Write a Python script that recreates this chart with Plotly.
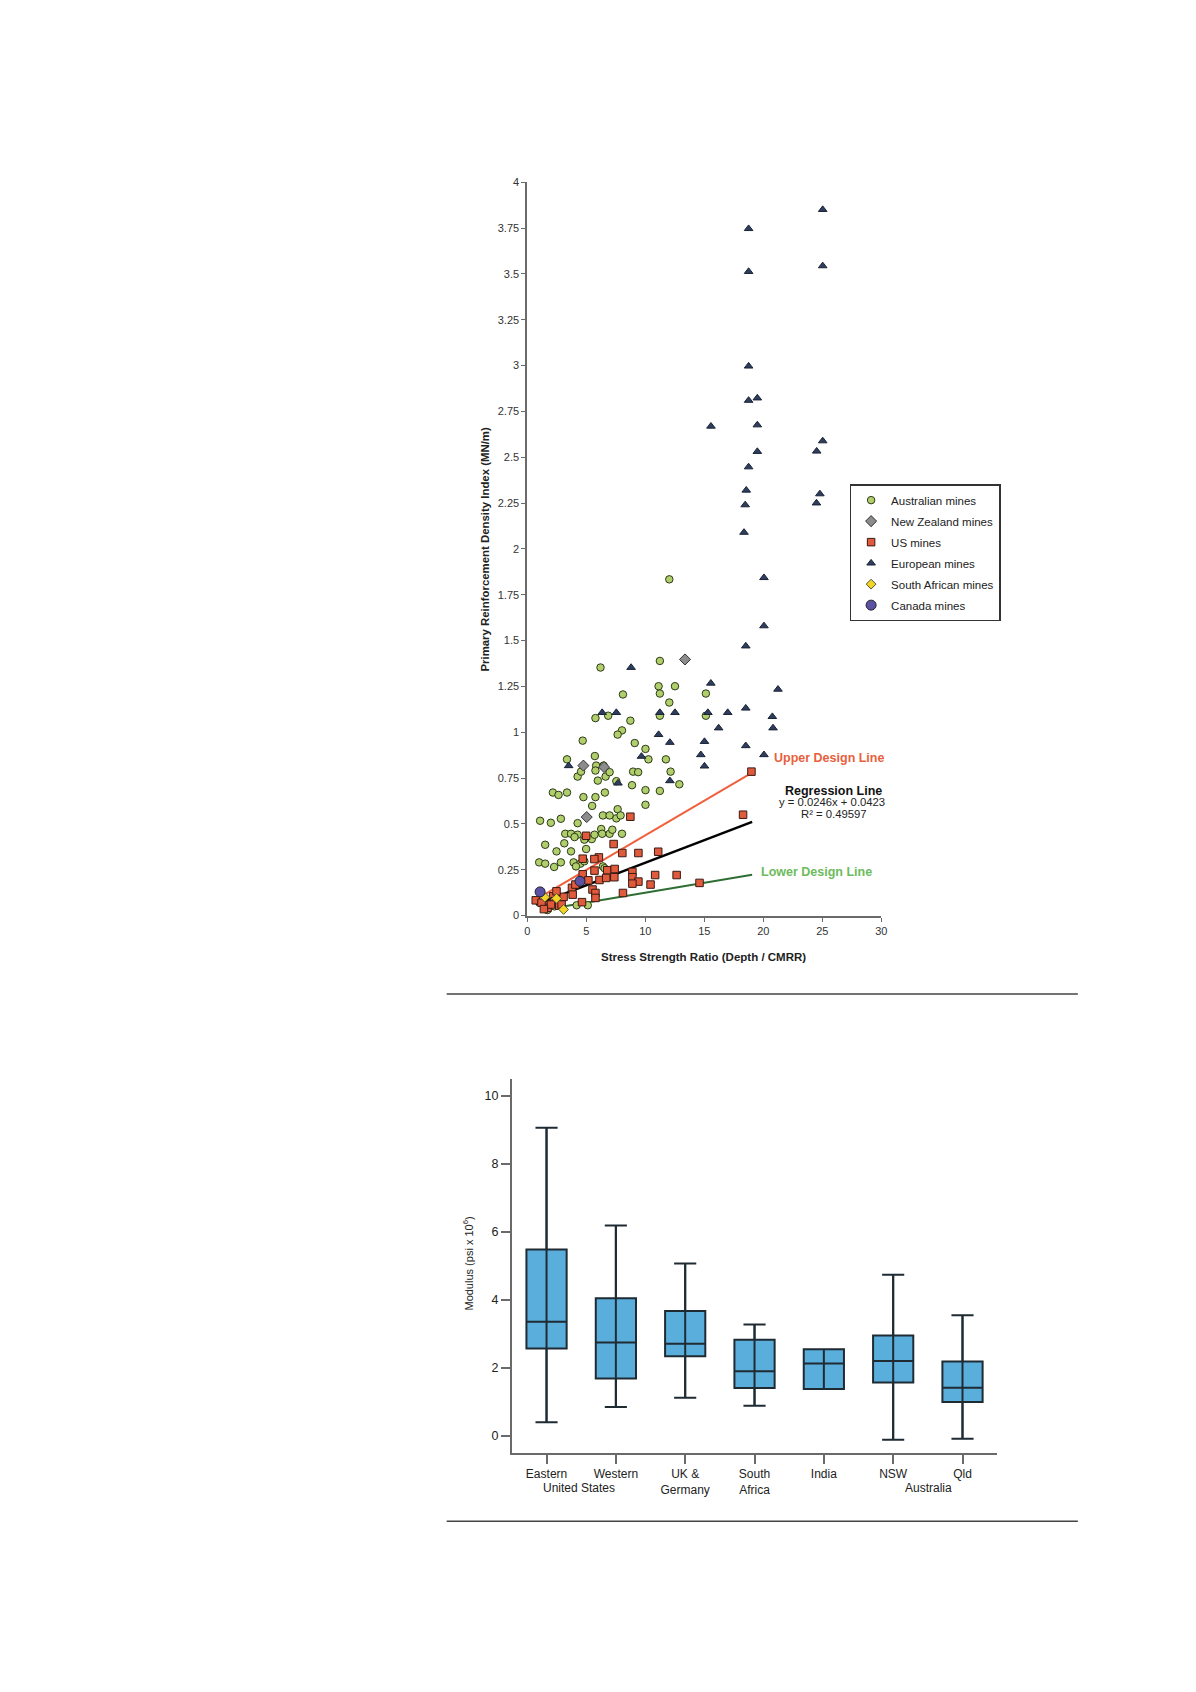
import plotly.graph_objects as go

# page body has an 8px margin; figure sized so the page fits the window exactly
OFF = 8
W, H = 1196 - OFF, 1692 - OFF

# ---------------- Scatter chart data ----------------
aus_x = [12.03, 6.2, 11.23, 11.12, 12.51, 8.10, 11.23, 12.03, 15.13, 5.77, 6.85, 11.23, 15.13, 8.73,
         8.02, 7.65, 4.69, 9.10, 10.01, 10.26, 11.74, 3.36, 5.72, 5.83, 6.46, 5.77, 4.26, 4.55, 5.97,
         6.63, 6.97, 8.96, 9.39, 12.14, 7.54, 8.87, 12.88, 11.23, 10.01, 10.01, 2.16, 2.64, 3.36, 4.75,
         5.77, 6.57, 5.49, 7.65, 1.08, 1.99, 2.84, 4.26, 6.4, 6.97, 7.54, 7.9, 1.51, 3.13, 3.21, 3.70,
         4.26, 4.0, 4.83, 5.46, 5.69, 6.26, 6.34, 6.97, 7.2, 8.02, 4.98, 2.47, 3.70, 1.00, 1.51, 2.27,
         2.84, 3.92, 4.49, 4.83, 4.12, 6.4, 6.54, 4.18, 5.12, 2.3, 1.7]
aus_y = [1.834, 1.353, 1.389, 1.251, 1.251, 1.206, 1.211, 1.162, 1.211, 1.077, 1.090, 1.090, 1.090, 1.063,
         1.010, 0.987, 0.954, 0.941, 0.909, 0.852, 0.852, 0.852, 0.870, 0.818, 0.818, 0.791, 0.758, 0.785,
         0.736, 0.758, 0.782, 0.785, 0.782, 0.785, 0.733, 0.711, 0.716, 0.680, 0.684, 0.604, 0.671, 0.658,
         0.671, 0.646, 0.646, 0.671, 0.598, 0.580, 0.517, 0.506, 0.528, 0.504, 0.546, 0.546, 0.530, 0.546,
         0.386, 0.394, 0.446, 0.446, 0.441, 0.428, 0.414, 0.417, 0.441, 0.472, 0.446, 0.446, 0.468, 0.446,
         0.363, 0.350, 0.350, 0.290, 0.283, 0.265, 0.290, 0.290, 0.283, 0.296, 0.268, 0.268, 0.258, 0.056,
         0.056, 0.05, 0.03]

nz_x = [13.36, 4.75, 5.03, 6.5]
nz_y = [1.397, 0.818, 0.537, 0.81]

us_x = [18.99, 18.28, 8.73, 4.98, 7.31, 8.05, 9.41, 11.09, 4.69, 6.06, 5.68, 5.69, 6.77, 7.40, 8.90, 7.37,
        8.90, 10.83, 12.65, 9.41, 8.90, 10.44, 14.59, 8.10, 4.69, 5.17, 6.11, 6.68, 5.52, 5.77, 5.77, 4.63,
        3.78, 4.07, 3.07, 2.19, 2.47, 0.71, 1.56, 2.27, 2.70, 1.71, 3.84, 1.2, 2.0, 2.9, 1.4]
us_y = [0.785, 0.550, 0.539, 0.435, 0.390, 0.341, 0.341, 0.348, 0.310, 0.317, 0.308, 0.245, 0.247, 0.254,
        0.238, 0.209, 0.209, 0.221, 0.221, 0.185, 0.174, 0.169, 0.178, 0.123, 0.225, 0.192, 0.194, 0.205,
        0.142, 0.123, 0.096, 0.073, 0.151, 0.169, 0.102, 0.105, 0.132, 0.083, 0.056, 0.078, 0.054, 0.042,
        0.114, 0.07, 0.06, 0.06, 0.035]

eu_x = [25.03, 18.75, 18.75, 25.03, 18.75, 18.75, 19.49, 15.56, 19.49, 19.49, 24.52, 25.03, 18.75,
        18.55, 18.46, 24.50, 24.79, 18.36, 20.05, 20.05, 18.51,
        8.79, 15.55, 21.24, 18.51, 6.34, 7.54, 11.23, 12.51, 15.30, 16.98, 20.76, 20.82, 16.21, 11.12,
        12.08, 15.01, 14.70, 18.51, 20.05, 15.01, 9.67, 3.50, 12.08, 7.68]
eu_y = [3.851, 3.747, 3.513, 3.544, 2.997, 2.810, 2.823, 2.669, 2.676, 2.531, 2.533, 2.589, 2.447,
        2.320, 2.240, 2.250, 2.300, 2.090, 1.843, 1.580, 1.470,
        1.353, 1.267, 1.234, 1.131, 1.107, 1.107, 1.107, 1.107, 1.107, 1.107, 1.085, 1.023, 1.023, 0.987,
        0.944, 0.949, 0.877, 0.926, 0.877, 0.815, 0.868, 0.817, 0.735, 0.722]

sa_x = [3.07, 2.47, 1.48]
sa_y = [0.033, 0.093, 0.100]

ca_x = [1.08, 4.46]
ca_y = [0.129, 0.187]

upper_x = [0.71, 19.05]
upper_y = [0.087, 0.780]
reg_slope, reg_icpt = 0.0246, 0.0423
reg_x = [0.71, 19.05]
lower_x = [1.14, 19.05]
lower_y = [0.029, 0.223]

sc_xticks = [0, 5, 10, 15, 20, 25, 30]
sc_yticks = [0, 0.25, 0.5, 0.75, 1, 1.25, 1.5, 1.75, 2, 2.25, 2.5, 2.75, 3, 3.25, 3.5, 3.75, 4]
sc_yticklabels = ["0", "0.25", "0.5", "0.75", "1", "1.25", "1.5", "1.75", "2", "2.25", "2.5", "2.75",
                  "3", "3.25", "3.5", "3.75", "4"]

# ---------------- Box chart data ----------------
box_labels = ["Eastern", "Western", "UK &<br>Germany", "South<br>Africa", "India", "NSW", "Qld"]
box_pos = [0, 1, 2, 3, 4, 5, 6]
box_low = [0.40, 0.85, 1.12, 0.89, 1.38, -0.11, -0.08]
box_q1 = [2.57, 1.69, 2.34, 1.41, 1.38, 1.57, 1.00]
box_med = [3.36, 2.75, 2.71, 1.90, 2.13, 2.20, 1.42]
box_q3 = [5.48, 4.05, 3.67, 2.83, 2.55, 2.95, 2.19]
box_high = [9.06, 6.19, 5.07, 3.28, 2.55, 4.74, 3.55]
box_yticks = [0, 2, 4, 6, 8, 10]

FONT = "Liberation Sans, Arial, sans-serif"
AX_COL = "#6a6a6a"

fig = go.Figure()

def mk(color, line, symbol, size):
    return dict(color=color, symbol=symbol, size=size, line=dict(color=line, width=1))

fig.add_trace(go.Scatter(x=upper_x, y=upper_y, mode="lines", line=dict(color="#f0603c", width=2),
                         showlegend=False, hoverinfo="skip"))
fig.add_trace(go.Scatter(x=reg_x, y=[reg_slope * v + reg_icpt for v in reg_x], mode="lines",
                         line=dict(color="#000000", width=2.5), showlegend=False, hoverinfo="skip"))
fig.add_trace(go.Scatter(x=lower_x, y=lower_y, mode="lines", line=dict(color="#2f6e33", width=2),
                         showlegend=False, hoverinfo="skip"))

series = [
    ("Australian mines", aus_x, aus_y, mk("#b0cf6c", "#2c3a18", "circle", 7.5)),
    ("New Zealand mines", nz_x, nz_y, mk("#8c8c8c", "#333333", "diamond", 8.5)),
    ("US mines", us_x, us_y, mk("#e05a3c", "#3a1a14", "square", 7.5)),
    ("European mines", eu_x, eu_y, mk("#2d3e5e", "#1a2233", "triangle-up", 7.5)),
    ("South African mines", sa_x, sa_y, mk("#f2d525", "#555533", "diamond", 7.5)),
    ("Canada mines", ca_x, ca_y, mk("#5b52a3", "#222233", "circle", 10)),
]
for name, xs, ys, m in series:
    fig.add_trace(go.Scatter(x=xs, y=ys, mode="markers", name=name, legendgroup=name, marker=m))

# Box chart
fig.add_trace(go.Box(x=box_pos, q1=box_q1, median=box_med, q3=box_q3, lowerfence=box_low,
                     upperfence=box_high, xaxis="x2", yaxis="y2", width=0.58, whiskerwidth=0.55,
                     fillcolor="#5aaedc", line=dict(color="#1f2b33", width=2), showlegend=False,
                     boxpoints=False))
stem_x, stem_y = [], []
for p, lo, hi, a, b in zip(box_pos, box_low, box_high, box_q1, box_q3):
    stem_x += [p, p, None]
    stem_y += [min(lo, a), max(hi, b), None]
fig.add_trace(go.Scatter(x=stem_x, y=stem_y, xaxis="x2", yaxis="y2", mode="lines",
                         line=dict(color="#1f2b33", width=2), showlegend=False, hoverinfo="skip"))

def px(x):
    return (x - OFF) / W

def py(y):
    return 1 - (y - OFF) / H

BOX_DY = 3

fig.update_layout(
    width=W, height=H, margin=dict(l=0, r=0, t=0, b=0),
    paper_bgcolor="white", plot_bgcolor="white",
    font=dict(family=FONT, color="#222222"),
    xaxis=dict(domain=[px(528.3), px(885)], range=[0, 30], tickvals=sc_xticks, ticks="outside",
               ticklen=4, tickcolor=AX_COL, showline=True, linecolor=AX_COL, linewidth=2,
               showgrid=False, zeroline=False, tickfont=dict(size=11, color="#333"), anchor="y"),
    yaxis=dict(domain=[py(916), py(177.5)], range=[0, 4], tickvals=sc_yticks, ticktext=sc_yticklabels,
               ticks="outside", ticklen=4, tickcolor=AX_COL, showline=True, linecolor=AX_COL,
               linewidth=2, showgrid=False, zeroline=False, tickfont=dict(size=11, color="#333"),
               anchor="x"),
    xaxis2=dict(domain=[px(512.7), px(1001.7)], range=[-0.5, 6.5], tickvals=box_pos, ticktext=box_labels,
                ticks="outside", ticklen=9, tickwidth=2, tickcolor=AX_COL, showline=True, linecolor=AX_COL,
                linewidth=2, showgrid=False, zeroline=False, tickfont=dict(size=12, color="#222"),
                anchor="y2"),
    yaxis2=dict(domain=[py(1454.3 + BOX_DY), py(1077.4 + BOX_DY)], range=[-0.5, 10.5], tickvals=box_yticks,
                ticks="outside", ticklen=9, tickwidth=2, tickcolor=AX_COL, showline=True, linecolor=AX_COL,
                linewidth=2, showgrid=False, zeroline=False, tickfont=dict(size=12.5, color="#222"),
                anchor="x2"),
    legend=dict(x=px(853), y=py(481.5), xanchor="left", yanchor="top", bordercolor="#333333",
                borderwidth=1.5, bgcolor="white", font=dict(size=11.5, family=FONT, color="#222"),
                itemwidth=30, tracegroupgap=2),
    shapes=[
        dict(type="line", xref="paper", yref="paper", x0=px(447), x1=px(1083), y0=py(995), y1=py(995),
             line=dict(color="#444444", width=1.5)),
        dict(type="line", xref="paper", yref="paper", x0=px(447), x1=px(1083), y0=py(1526), y1=py(1526),
             line=dict(color="#444444", width=1.5)),
    ],
)

def note(text, x, y, size, color, xanchor="center", angle=0):
    return dict(text=text, x=px(x), y=py(y), xref="paper", yref="paper", xanchor=xanchor,
                yanchor="middle", showarrow=False, textangle=angle,
                font=dict(size=size, color=color, family=FONT))

ann = [
    note("<b>Stress Strength Ratio (Depth / CMRR)</b>", 706, 958, 11.5, "#222"),
    note("<b>Primary Reinforcement Density Index (MN/m)</b>", 486, 547, 11.4, "#222", angle=-90),
    note("<b>Upper Design Line</b>", 775, 757, 12.5, "#e8603c", xanchor="left"),
    note("<b>Regression Line</b>", 837, 790.5, 12.5, "#111"),
    note("y = 0.0246x + 0.0423", 835, 801.5, 11.3, "#222"),
    note("R² = 0.49597", 837, 814, 11.3, "#222"),
    note("<b>Lower Design Line</b>", 762, 872, 12.5, "#6dbb5c", xanchor="left"),
    note("Modulus (psi x 10<sup>6</sup>)", 469, 1264 + BOX_DY, 11, "#222", angle=-90),
    note("United States", 580, 1490 + BOX_DY, 12, "#222"),
    note("Australia", 932.7, 1490 + BOX_DY, 12, "#222"),
]
fig.update_layout(annotations=ann)

fig.write_html("out.html")
